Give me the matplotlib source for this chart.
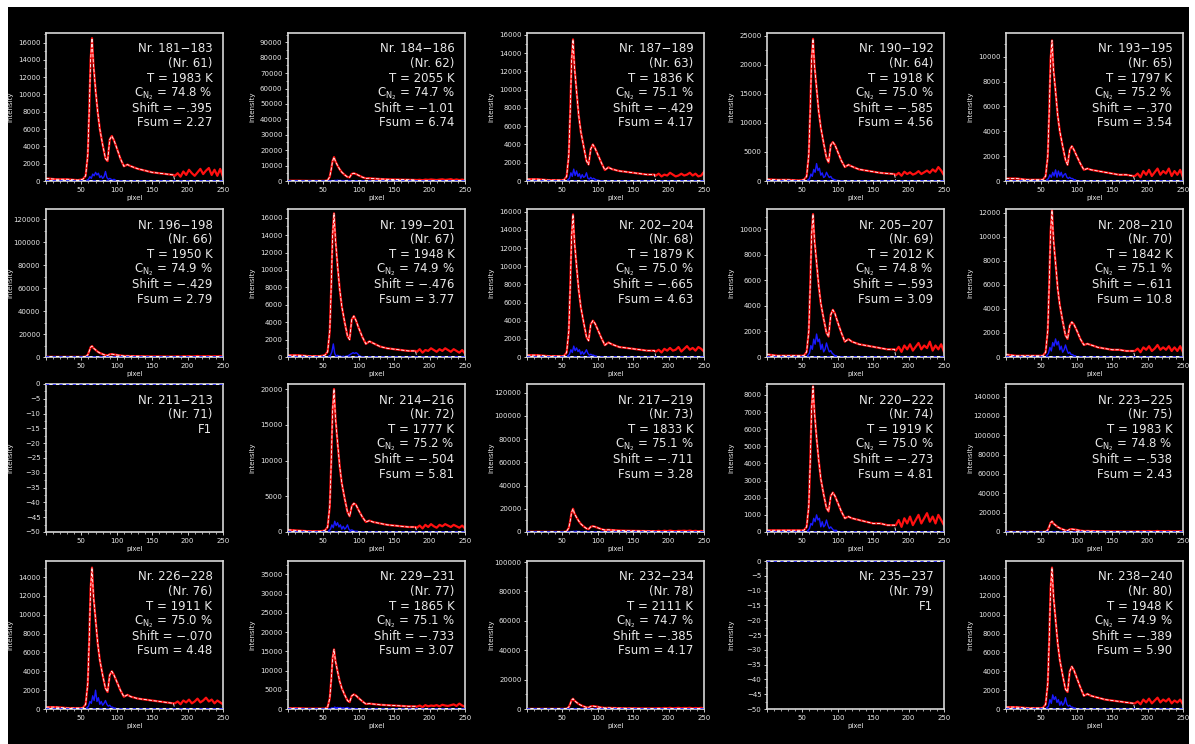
import numpy as np
import matplotlib
matplotlib.use('Agg')
import matplotlib.pyplot as plt
from matplotlib.ticker import MultipleLocator, AutoMinorLocator
from matplotlib.patches import Rectangle

plt.rcParams['font.family'] = ['DejaVu Sans']
plt.rcParams['mathtext.fontset'] = 'dejavusans'

# panel annotations (None = failed fit "F1")
ranges = ['181-183', '184-186', '187-189', '190-192', '193-195',
          '196-198', '199-201', '202-204', '205-207', '208-210',
          '211-213', '214-216', '217-219', '220-222', '223-225',
          '226-228', '229-231', '232-234', '235-237', '238-240']
numbers = list(range(61, 81))
temps = [1983, 2055, 1836, 1918, 1797, 1950, 1948, 1879, 2012, 1842,
         None, 1777, 1833, 1919, 1983, 1911, 1865, 2111, None, 1948]
conc = ['74.8', '74.7', '75.1', '75.0', '75.2', '74.9', '74.9', '75.0', '74.8', '75.1',
        None, '75.2', '75.1', '75.0', '74.8', '75.0', '75.1', '74.7', None, '74.9']
shifts = ['-.395', '-1.01', '-.429', '-.585', '-.370', '-.429', '-.476', '-.665', '-.593', '-.611',
          None, '-.504', '-.711', '-.273', '-.538', '-.070', '-.733', '-.385', None, '-.389']
fsums = ['2.27', '6.74', '4.17', '4.56', '3.54', '2.79', '3.77', '4.63', '3.09', '10.8',
         None, '5.81', '3.28', '4.81', '2.43', '4.48', '3.07', '4.17', None, '5.90']

# y axis ranges and major tick step
ytop = [17100, 96000, 16200, 25500, 11900, 128700, 17000, 16300, 11600, 12300,
        0, 20700, 127500, 8640, 153000, 15700, 38500, 100700, 0, 15700]
ystep = [2000, 10000, 2000, 5000, 2000, 20000, 2000, 2000, 2000, 2000,
         5, 5000, 20000, 1000, 20000, 2000, 5000, 20000, 5, 2000]

# spectra, intensity in units of 100 counts
pix = [0, 15, 30, 45, 52, 56, 59, 61, 63, 65, 67, 70, 73, 76, 80, 84, 87, 90,
       93, 96, 100, 105, 110, 115, 120, 130, 140, 150, 160, 170, 180]
tail_pix = [182, 186, 190, 194, 198, 202, 206, 210, 214, 218, 222, 226, 230,
            234, 238, 242, 246, 250]
fit_end_pix = [182, 250]
blue_pix = [56, 60, 62, 64, 66, 68, 70, 72, 74, 76, 78, 80, 82, 84, 86, 88,
            90, 92, 94, 96, 98, 100, 104]

body = [
    [3,2,2,1,2,6,30,80,140,165,135,105,80,60,42,26,23,48,52,47,38,26,17,19,17,14,12,10,9,8,7],
    [2,2,1,1,1,5,28,75,130,155,128,100,76,57,40,26,24,46,50,45,36,25,17,18,16,13,11,10,9,8,7],
    [2,2,1,1,1,5,28,75,132,155,125,98,72,54,38,22,18,35,40,36,29,20,12,15,13,11,10,9,8,7,7],
    [3,2,2,1,2,8,45,120,210,245,200,160,120,92,65,40,32,62,67,62,50,35,24,28,25,20,18,16,14,13,12],
    [2,2,1,1,1,4,20,55,98,113,90,72,53,40,28,17,13,25,28,25,20,14,9,10,9,8,7,6,5,5,4],
    [2,1,1,1,1,4,18,50,85,95,78,62,46,35,25,16,13,23,25,22,18,13,9,9,8,7,6,5,5,4,4],
    [2,2,1,1,2,6,30,80,140,165,135,105,78,58,40,24,20,43,47,42,33,23,15,18,16,12,10,9,8,7,7],
    [2,2,1,1,1,5,28,76,133,157,127,100,74,55,38,22,18,36,40,37,30,21,13,16,14,11,10,9,8,7,7],
    [2,1,1,1,1,4,20,55,96,112,92,74,56,42,30,19,16,33,37,34,27,19,12,14,12,10,9,8,7,6,6],
    [2,1,1,1,1,4,22,60,104,122,98,78,57,43,30,18,15,26,29,27,22,15,10,11,10,8,7,6,6,5,5],
    None,
    [3,2,1,1,2,7,36,96,170,200,160,125,92,68,47,28,22,36,40,38,30,21,14,16,14,12,10,9,8,7,7],
    [2,2,1,1,1,6,35,95,170,200,160,125,95,70,48,30,25,45,50,45,36,25,17,19,17,13,11,10,9,8,7],
    [1,1,1,1,1,3,15,40,72,85,70,55,42,31,22,14,12,21,23,21,17,12,8,9,8,7,6,5,5,4,4],
    [2,1,1,1,1,4,20,55,95,110,88,70,52,40,28,17,14,27,30,27,22,15,10,11,10,8,7,6,6,5,5],
    [2,2,1,1,1,5,27,72,128,150,120,95,70,52,36,22,18,36,40,36,29,20,13,15,13,11,10,9,8,7,6],
    [2,2,1,1,1,5,28,75,132,155,125,98,72,54,37,22,18,34,38,35,28,20,13,14,13,11,10,9,8,7,7],
    [1,1,1,1,1,3,13,34,60,70,57,45,34,26,18,11,10,18,20,18,15,10,7,8,7,6,5,5,4,4,4],
    None,
    [2,2,1,1,1,5,27,72,128,150,120,95,70,52,36,21,18,40,45,41,33,23,14,16,14,12,10,9,8,7,6],
]
tail = [
    [6,9,5,11,7,13,9,6,10,14,8,12,15,7,13,6,14,5],
    [6,8,5,9,7,10,8,6,9,11,7,9,12,6,10,6,9,5],
    [6,8,5,7,6,9,7,5,6,8,6,7,9,6,8,5,6,10],
    [10,14,9,16,12,15,11,13,17,12,15,18,14,20,16,24,18,10],
    [4,6,3,8,5,9,4,7,10,5,8,6,10,4,8,5,9,3],
    [4,6,3,7,5,8,4,6,9,5,7,6,8,4,7,5,8,3],
    [6,9,5,8,7,10,8,6,9,7,10,8,6,9,7,5,8,4],
    [6,8,5,9,7,10,7,8,11,6,9,12,8,10,7,11,9,6],
    [5,8,4,9,6,10,5,8,11,6,9,7,12,5,9,6,10,4],
    [5,7,4,8,6,9,5,7,10,6,8,6,9,5,8,5,9,4],
    None,
    [6,9,5,10,7,11,8,6,10,8,11,9,7,10,8,6,9,5],
    [6,10,5,11,7,12,8,6,10,9,11,8,12,7,10,6,9,5],
    [4,7,3,8,5,9,4,7,10,5,8,11,6,9,5,10,7,4],
    [5,8,4,9,6,10,5,7,11,6,9,7,10,5,8,6,9,4],
    [6,8,5,9,7,10,6,8,11,7,9,12,8,10,6,9,7,5],
    [6,9,5,10,7,9,8,10,7,11,9,8,10,12,8,14,9,6],
    [4,6,3,7,5,8,4,6,8,5,7,6,8,4,7,5,8,3],
    None,
    [6,8,5,10,7,11,6,9,12,7,10,8,11,6,9,7,10,5],
]
blue = [
    [0,2,5,3,8,6,10,7,9,4,6,3,5,11,4,2,3,2,1,2,1,0,0],
    [0,1,3,2,4,3,5,3,4,2,3,2,3,4,2,1,2,1,1,1,0,0,0],
    [0,3,9,5,13,6,11,5,8,3,7,4,5,9,3,2,4,2,3,2,1,1,0],
    [0,4,12,8,20,15,30,18,22,10,14,6,8,15,10,6,8,4,3,2,1,1,0],
    [0,2,5,3,7,4,9,3,8,4,7,3,5,6,3,2,3,2,2,1,1,0,0],
    [0,1,2,1,3,2,3,2,2,1,2,1,2,2,1,1,1,1,0,0,0,0,0],
    [0,2,6,15,4,1,2,1,1,0,1,0,1,1,2,3,4,5,4,5,4,2,0],
    [0,3,8,5,12,7,10,6,8,3,6,3,5,8,4,2,3,2,2,1,1,0,0],
    [0,3,9,6,14,10,18,12,14,6,10,4,6,11,7,4,5,3,2,1,1,0,0],
    [0,3,8,5,12,9,15,10,13,6,9,4,6,10,6,3,4,2,2,1,1,0,0],
    None,
    [0,4,10,6,15,9,13,7,10,4,8,4,6,10,4,2,3,2,1,1,1,0,0],
    [0,2,4,3,6,4,7,4,5,2,4,2,3,5,2,1,2,1,1,1,0,0,0],
    [0,2,5,4,8,6,10,7,8,3,6,3,4,7,4,2,3,2,1,1,1,0,0],
    [0,1,3,2,4,3,5,3,4,2,3,2,3,4,2,1,2,1,1,1,0,0,0],
    [0,3,8,6,14,9,20,8,12,5,8,4,6,9,5,3,4,2,2,1,1,0,0],
    [0,1,3,2,5,3,4,3,4,2,3,2,3,4,2,1,2,1,1,1,0,0,0],
    [0,1,2,1,3,2,3,2,2,1,2,1,2,2,1,1,1,1,0,0,0,0,0],
    None,
    [0,3,10,6,15,10,13,7,10,4,8,4,6,12,5,3,4,2,2,1,1,0,0],
]
UNIT = 100

W, H = 1195, 744
col_left = [46, 288, 527, 767, 1006]
row_top = [33, 209, 384, 561]
ax_w, ax_h = 177, 148

fig = plt.figure(figsize=(W / 100, H / 100), dpi=100, facecolor='white')
fig.patches.append(Rectangle((8 / W, 0), (W - 14) / W, (H - 7) / H,
                             transform=fig.transFigure, facecolor='black',
                             edgecolor='none', zorder=-10))

fg = '#e8e8e8'
for i in range(20):
    r, c = divmod(i, 5)
    ax = fig.add_axes([col_left[c] / W, (H - row_top[r] - ax_h) / H, ax_w / W, ax_h / H])
    ax.set_facecolor('black')
    for s in ax.spines.values():
        s.set_color('#d8d8d8')
        s.set_linewidth(1.2)

    if body[i] is not None:
        y_body = np.array(body[i]) * UNIT
        ax.plot(pix + tail_pix, list(y_body) + [v * UNIT for v in tail[i]],
                color='#ff1010', lw=1.6, zorder=2)
        ax.plot(pix + fit_end_pix, list(y_body) + [0, 0],
                color='white', lw=0.6, ls=(0, (4, 2)), zorder=3)
        ax.plot(blue_pix, np.array(blue[i]) * UNIT, color='#1a1aff', lw=1.0, zorder=4)
        ax.set_ylim(0, ytop[i])
    else:
        ax.set_ylim(-50, 0)
    ax.axhline(0, color='white', lw=1.2, zorder=4)
    ax.axhline(0, color='#2020ff', lw=1.2, ls=(0, (2, 2)), zorder=5)

    ax.set_xlim(0, 250)
    ax.xaxis.set_major_locator(MultipleLocator(50))
    ax.xaxis.set_minor_locator(MultipleLocator(10))
    ax.yaxis.set_major_locator(MultipleLocator(ystep[i]))
    ax.yaxis.set_minor_locator(AutoMinorLocator(2))
    ax.tick_params(colors=fg, labelsize=5, length=2.5, width=0.6, pad=1.5)
    ax.tick_params(which='minor', colors=fg, length=1.5, width=0.5)
    ax.xaxis.set_major_formatter(lambda v, p: '' if v == 0 else f'{v:g}')
    ax.set_xlabel('pixel', color=fg, fontsize=5, labelpad=1.5)
    ax.set_ylabel('intensity', color=fg, fontsize=5)
    ax.yaxis.set_label_coords(-0.185, 0.5)

    lines = [f'Nr. {ranges[i].replace("-", "\u2212")}', f'(Nr. {numbers[i]})']
    if temps[i] is None:
        lines.append('F1')
    else:
        lines += [f'T = {temps[i]} K',
                  r'C$_{\mathrm{N_2}}$' + f' = {conc[i]} %',
                  f'Shift = {shifts[i].replace("-", "\u2212")}',
                  f'Fsum = {fsums[i]}']
    for k, t in enumerate(lines):
        ax.text(0.94, 1 - (16 + 14.8 * k) / ax_h, t, transform=ax.transAxes,
                ha='right', va='center', color=fg, fontsize=8.5, zorder=6)

fig.savefig('out.png', dpi=100, facecolor='white')
